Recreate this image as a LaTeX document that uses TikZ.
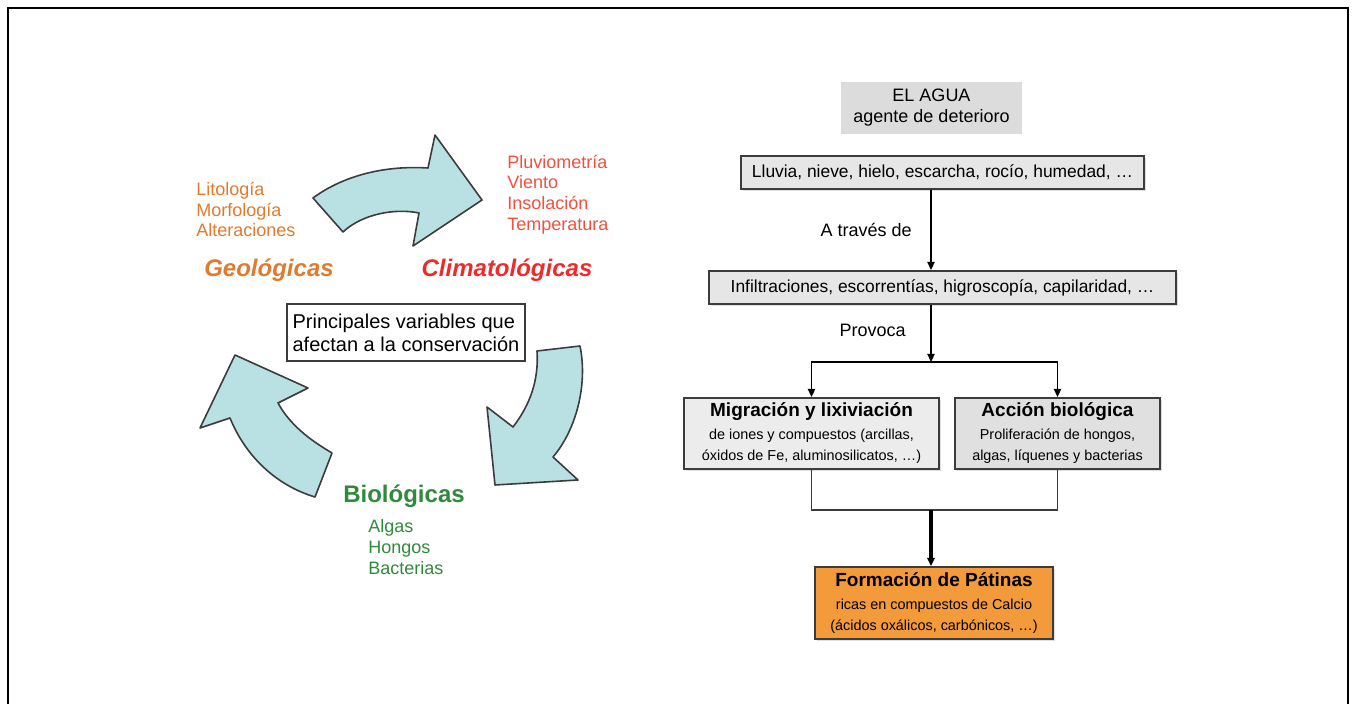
\documentclass[tikz,border=0pt]{standalone}
\usepackage{fontspec}
\setmainfont{Liberation Sans}
\usetikzlibrary{arrows.meta,shadows}
\definecolor{ink}{HTML}{3C3C3C}
\definecolor{aqua}{HTML}{B9E1E3}
\definecolor{geo}{HTML}{E07A2E}
\definecolor{clima}{HTML}{EE2A2A}
\definecolor{climalist}{HTML}{F0513F}
\definecolor{bio}{HTML}{2F8A3A}
\definecolor{pgray}{HTML}{E6E6E6}
\definecolor{lgray}{HTML}{ECECEC}
\definecolor{dgray}{HTML}{E0E0E0}
\definecolor{agua}{HTML}{DCDCDC}
\definecolor{patina}{HTML}{F39A3A}

\begin{document}
\begin{tikzpicture}[x=0.5pt,y=-0.5pt,
  font=\fontsize{8.7}{10.5}\selectfont,
  box/.style={draw=ink,line width=1pt,fill=pgray,align=center,inner sep=0pt,
    drop shadow={shadow xshift=.8pt,shadow yshift=-.8pt,opacity=.25}},
  group/.style={font=\bfseries\fontsize{12}{14}\selectfont,inner sep=0pt},
  items/.style={font=\fontsize{9}{10.3}\selectfont,align=left,anchor=west,inner sep=0pt},
  cycle/.style={fill=aqua,draw=ink,line width=.8pt,line join=round},
  arrow/.style={-{Triangle[length=4pt,width=3.6pt]},line width=.75pt,draw=black},
  link/.style={line width=.75pt,draw=ink}
]
\useasboundingbox (0,0) rectangle (1356,704);
\draw[line width=.7pt] (8,704) -- (8,8) -- (1348,8) -- (1348,704);

% cycle of variables
\draw[cycle] (313,198) .. controls (340,178) and (380,165) .. (428,168) -- (435,135) -- (482,200)
  -- (413,246) -- (419,213) .. controls (395,208) and (362,214) .. (343,232) -- cycle;
\draw[cycle] (537,351) -- (580,346) .. controls (588,385) and (576,430) .. (553,457) -- (578,480)
  -- (495,485) -- (487,407) -- (513,427) .. controls (530,405) and (539,380) .. (537,351) -- cycle;
\draw[cycle] (315,497) -- (332,453) .. controls (310,440) and (290,425) .. (278,403) -- (308,388)
  -- (235,355) -- (200,428) -- (230,418) .. controls (245,455) and (275,485) .. (315,497) -- cycle;

\node[items,text=geo] (geolist) at (196,209.5) {Litología\\Morfología\\Alteraciones};
\node[group,text=geo,font=\bfseries\itshape\fontsize{12}{14}\selectfont] (geo) at (269,270) {Geológicas};
\node[items,text=climalist] (climalist) at (507,194.5) {Pluviometría\\Viento\\Insolación\\Temperatura};
\node[group,text=clima,font=\bfseries\itshape\fontsize{12}{14}\selectfont] (clima) at (507,270) {Climatológicas};
\node[group,text=bio] (bio) at (404,496) {Biológicas};
\node[items,text=bio] (biolist) at (368,547) {Algas\\Hongos\\Bacterias};
\node[draw=ink,line width=.8pt,fill=white,align=left,inner sep=0pt,minimum width=119pt,minimum height=28.5pt,
  font=\fontsize{10}{11.5}\selectfont] (vars) at (406,332.5) {Principales variables que\\afectan a la conservación};

% water as agent of decay
\node[fill=agua,align=center,minimum width=90.5pt,minimum height=26pt,inner sep=0pt,
  font=\fontsize{9}{10.5}\selectfont] (agua) at (931.5,108) {EL AGUA\\agente de deterioro};
\node[box,minimum width=201.5pt,minimum height=16.5pt] (lluvia) at (942.5,172.5) {Lluvia, nieve, hielo, escarcha, rocío, humedad, …};
\node[box,minimum width=233.5pt,minimum height=16.5pt] (infil) at (942.5,287.5) {Infiltraciones, escorrentías, higroscopía, capilaridad, …};
\node[box,fill=lgray,minimum width=127.5pt,minimum height=35.5pt] (migra) at (811.5,433.5)
  {{\bfseries\fontsize{9.5}{11}\selectfont Migración y lixiviación}\\[1pt]
   {\fontsize{7.2}{8.6}\selectfont de iones y compuestos (arcillas,}\\
   {\fontsize{7.2}{8.6}\selectfont óxidos de Fe, aluminosilicatos, …)}};
\node[box,fill=dgray,minimum width=102.5pt,minimum height=35.5pt] (accion) at (1057.5,433.5)
  {{\bfseries\fontsize{9.5}{11}\selectfont Acción biológica}\\[1pt]
   {\fontsize{7.2}{8.6}\selectfont Proliferación de hongos,}\\
   {\fontsize{7.2}{8.6}\selectfont algas, líquenes y bacterias}};
\node[box,fill=patina,minimum width=119pt,minimum height=36pt] (patina) at (934,603)
  {{\bfseries\fontsize{9.5}{11}\selectfont Formación de Pátinas}\\[1pt]
   {\fontsize{7.2}{8.6}\selectfont ricas en compuestos de Calcio}\\
   {\fontsize{7.2}{8.6}\selectfont (ácidos oxálicos, carbónicos, …)}};

\coordinate (spine) at (931,0);
\coordinate (split) at (931,362);
\coordinate (join) at (931,510);

\draw[arrow] (lluvia.south -| spine) -- node[left=6pt,font=\fontsize{9}{10.5}\selectfont] (traves) {A través de} (infil.north -| spine);
\draw[arrow] (infil.south -| spine) -- node[left=9pt,pos=.45,font=\fontsize{9}{10.5}\selectfont] (provoca) {Provoca} (split);
\draw[link] (migra.north |- split) -- (accion.north |- split);
\draw[arrow] (split) -| (migra.north);
\draw[arrow] (split) -| (accion.north);
\draw[link] (migra.south) |- (join) -| (accion.south);
\draw[arrow,line width=1.6pt] (join) -- (patina.north -| join);
\end{tikzpicture}
\end{document}
